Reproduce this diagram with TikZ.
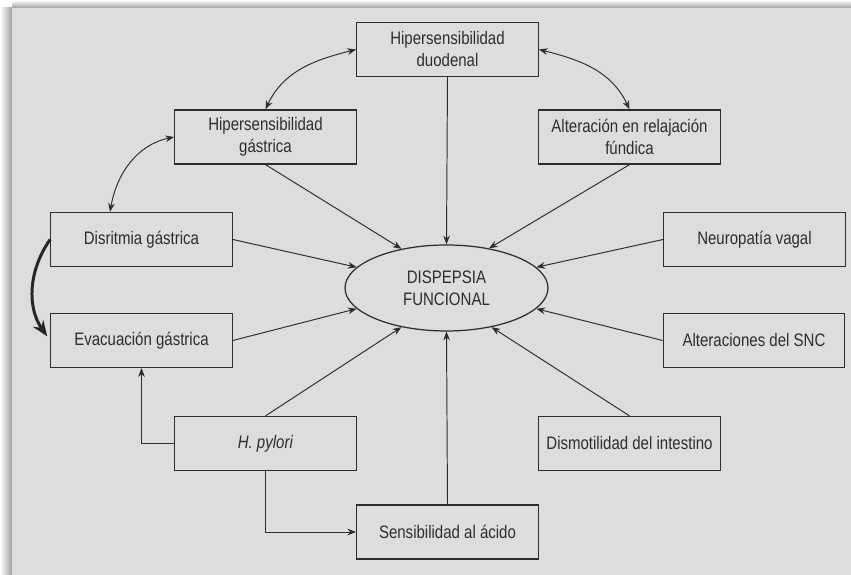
\documentclass[tikz,border=0pt]{standalone}
\usepackage{fontspec}
\setmainfont[FakeStretch=0.83]{Liberation Sans}
\usepackage{xcolor}
\usepackage{tikz}
\usetikzlibrary{shapes.geometric, arrows.meta, positioning}

\definecolor{panelgray}{RGB}{221,221,221}
\definecolor{inkgray}{RGB}{45,45,45}

\begin{document}
\begin{tikzpicture}[
    font=\fontsize{10.3}{12.5}\selectfont,
    causa/.style={draw=inkgray, line width=0.7pt, minimum width=3.63cm, minimum height=1.08cm,
                  inner sep=0pt, align=center, text=inkgray},
    nucleo/.style={draw=inkgray, ellipse, line width=0.7pt, minimum width=4.06cm,
                   minimum height=1.72cm, inner sep=0pt, align=center, text=inkgray},
    arr/.style={-{Stealth[length=5pt, width=3.8pt]}, draw=inkgray, line width=0.55pt},
    dbl/.style={{Stealth[length=5pt, width=3.8pt]}-{Stealth[length=5pt, width=3.8pt]},
                draw=inkgray, line width=0.55pt},
    gruesa/.style={-{Stealth[length=9pt, width=7pt]}, draw=black!85, line width=1.7pt}
]

% background with shadow of the panel
\useasboundingbox (0,0) rectangle (17.02,11.5);
\fill[white] (0,0) rectangle (17.02,11.5);
\shade[top color=white, bottom color=gray!75] (0.24,11.34) rectangle (17.02,11.5);
\shade[left color=white, right color=gray!75] (0,0) rectangle (0.24,11.34);
\fill[panelgray] (0.24,0) rectangle (17.02,11.34);

% centre
\node[nucleo] (disp) at (8.93, 5.74) {DISPEPSIA\\FUNCIONAL};

% upper boxes
\node[causa] (duo) at (8.95, 10.51) {Hipersensibilidad\\duodenal};
\node[causa] (gas) at (5.31, 8.76)  {Hipersensibilidad\\gástrica};
\node[causa] (fun) at (12.59, 8.76) {Alteración en relajación\\fúndica};

% side boxes
\node[causa] (dis)  at (2.83, 6.71)  {Disritmia gástrica};
\node[causa] (neu)  at (15.09, 6.71) {Neuropatía vagal};
\node[causa] (evac) at (2.83, 4.69)  {Evacuación gástrica};
\node[causa] (snc)  at (15.08, 4.69) {Alteraciones del SNC};

% lower boxes
\node[causa] (hp)   at (5.31, 2.63)  {\textit{H. pylori}};
\node[causa] (dism) at (12.59, 2.63) {Dismotilidad del intestino};
\node[causa] (sens) at (8.95, 0.86)  {Sensibilidad al ácido};

% arrows into the centre
\draw[arr] (duo.south)  -- (disp.north);
\draw[arr] (gas.south)  -- (disp.139);
\draw[arr] (fun.south)  -- (disp.43);
\draw[arr] (dis.east)   -- (disp.167);
\draw[arr] (neu.west)   -- (disp.13);
\draw[arr] (evac.east)  -- (disp.193);
\draw[arr] (snc.west)   -- (disp.-13);
\draw[arr] (hp.north)   -- (disp.221);
\draw[arr] (dism.north) -- (disp.319);
\draw[arr] (sens.north) -- (disp.south);

% mutual links
\draw[dbl] (gas.north) to[out=65, in=194] (duo.west);
\draw[dbl] (duo.east) to[out=-14, in=115] (fun.north);
\draw[dbl] ([xshift=-0.63cm]dis.north) to[out=80, in=192] (gas.west);

% disritmia --> evacuacion
\draw[gruesa, shorten >=0.1cm] (dis.west) to[out=235, in=125] (evac.west);

% H. pylori elbows
\draw[arr] (hp.west) -| (evac.south);
\draw[arr] (hp.south) |- (sens.west);

\end{tikzpicture}
\end{document}
